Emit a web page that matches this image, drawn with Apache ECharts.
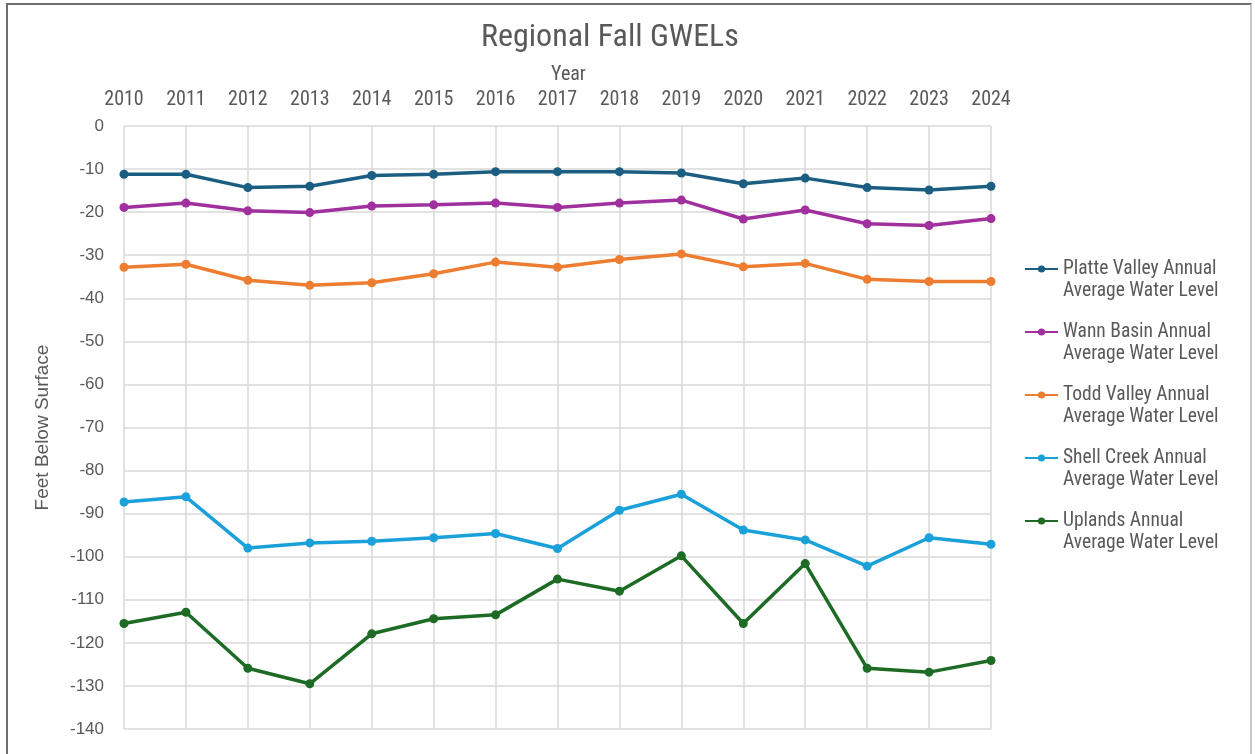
<!DOCTYPE html>
<html>
<head>
<meta charset="utf-8">
<title>Regional Fall GWELs</title>
<script src="https://cdn.jsdelivr.net/npm/echarts@6/dist/echarts.min.js"></script>
<style>
  html, body { margin: 0; padding: 0; background: #ffffff; }
  #frame {
    position: absolute; left: 6px; top: 3px; width: 1246px; height: 760px;
    border-top: 2px solid #6e6e6e; border-left: 2px solid #6e6e6e; border-right: 2px solid #c8c8c8;
    box-sizing: border-box;
  }
  #chart { position: absolute; left: 0; top: 0; width: 1255px; height: 754px; }
</style>
</head>
<body>
<div id="frame"></div>
<div id="chart"></div>
<script>
const years = ['2010','2011','2012','2013','2014','2015','2016','2017','2018','2019','2020','2021','2022','2023','2024'];

const platteValley = [-11.2, -11.2, -14.3, -14.0, -11.5, -11.2, -10.6, -10.6, -10.6, -10.9, -13.4, -12.1, -14.3, -14.85, -14.0];
const wannBasin    = [-18.9, -17.9, -19.7, -20.1, -18.6, -18.3, -17.9, -18.9, -17.9, -17.2, -21.6, -19.5, -22.7, -23.1, -21.5];
const toddValley   = [-32.8, -32.1, -35.8, -37.0, -36.4, -34.3, -31.6, -32.8, -31.0, -29.7, -32.7, -31.9, -35.6, -36.1, -36.1];
const shellCreek   = [-87.3, -86.1, -98.0, -96.8, -96.4, -95.6, -94.6, -98.1, -89.2, -85.5, -93.8, -96.1, -102.2, -95.6, -97.1];
const uplands      = [-115.5, -112.9, -125.9, -129.5, -117.9, -114.4, -113.5, -105.2, -108.0, -99.8, -115.5, -101.6, -125.9, -126.8, -124.1];

const seriesDefs = [
  { name: 'Platte Valley Annual\nAverage Water Level', data: platteValley, color: '#1b5e82' },
  { name: 'Wann Basin Annual\nAverage Water Level',    data: wannBasin,    color: '#a0309d' },
  { name: 'Todd Valley Annual\nAverage Water Level',   data: toddValley,   color: '#ed7d31' },
  { name: 'Shell Creek Annual\nAverage Water Level',   data: shellCreek,   color: '#1ba1d9' },
  { name: 'Uplands Annual\nAverage Water Level',       data: uplands,      color: '#1d6b25' }
];

const textColor = '#595959';
const narrowFont = '"Liberation Sans Narrow", "Roboto Condensed", Lato, sans-serif';
const plainFont = '"Liberation Sans", Arial, sans-serif';

const chart = echarts.init(document.getElementById('chart'), null, { renderer: 'canvas' });
chart.setOption({
  animation: false,
  backgroundColor: 'transparent',
  title: {
    text: 'Regional Fall GWELs',
    left: 476,
    top: 17,
    textStyle: { fontFamily: narrowFont, fontSize: 32, fontWeight: 'normal', color: textColor }
  },
  legend: {
    orient: 'vertical',
    left: 1019,
    top: 231,
    itemGap: -3,
    itemWidth: 33,
    itemHeight: 9,
    // a blank first line keeps the marker level with the first text line
    formatter: n => ' \n' + n,
    textStyle: { fontFamily: narrowFont, fontSize: 19.5, color: textColor, lineHeight: 22 },
    data: seriesDefs.map(s => s.name)
  },
  grid: { left: 124, right: 264, top: 126, bottom: 25, containLabel: false },
  xAxis: {
    type: 'category',
    position: 'top',
    boundaryGap: false,
    data: years,
    name: 'Year',
    nameLocation: 'middle',
    nameGap: 41,
    nameTextStyle: { fontFamily: narrowFont, fontSize: 20, fontWeight: 'normal', color: textColor, padding: [0, 0, 0, 22] },
    axisLine: { show: false },
    axisTick: { show: false },
    axisLabel: { fontFamily: narrowFont, fontSize: 20, fontWeight: 'normal', color: textColor, margin: 16 },
    splitLine: { show: true, lineStyle: { color: '#d9d9d9', width: 1.5 } }
  },
  yAxis: {
    type: 'value',
    min: -140,
    max: 0,
    interval: 10,
    name: 'Feet Below Surface',
    nameLocation: 'middle',
    nameRotate: 90,
    nameGap: 72,
    nameTextStyle: { fontFamily: plainFont, fontSize: 19, color: textColor },
    axisLine: { show: false },
    axisTick: { show: false },
    axisLabel: { fontFamily: plainFont, fontSize: 17, color: textColor, margin: 20 },
    splitLine: { show: true, lineStyle: { color: '#d9d9d9', width: 1.5 } }
  },
  series: seriesDefs.map(s => ({
    name: s.name,
    type: 'line',
    data: s.data,
    symbol: 'circle',
    symbolSize: 9,
    showAllSymbol: true,
    lineStyle: { color: s.color, width: 3.5 },
    itemStyle: { color: s.color },
    emphasis: { disabled: true }
  }))
});
</script>
</body>
</html>
